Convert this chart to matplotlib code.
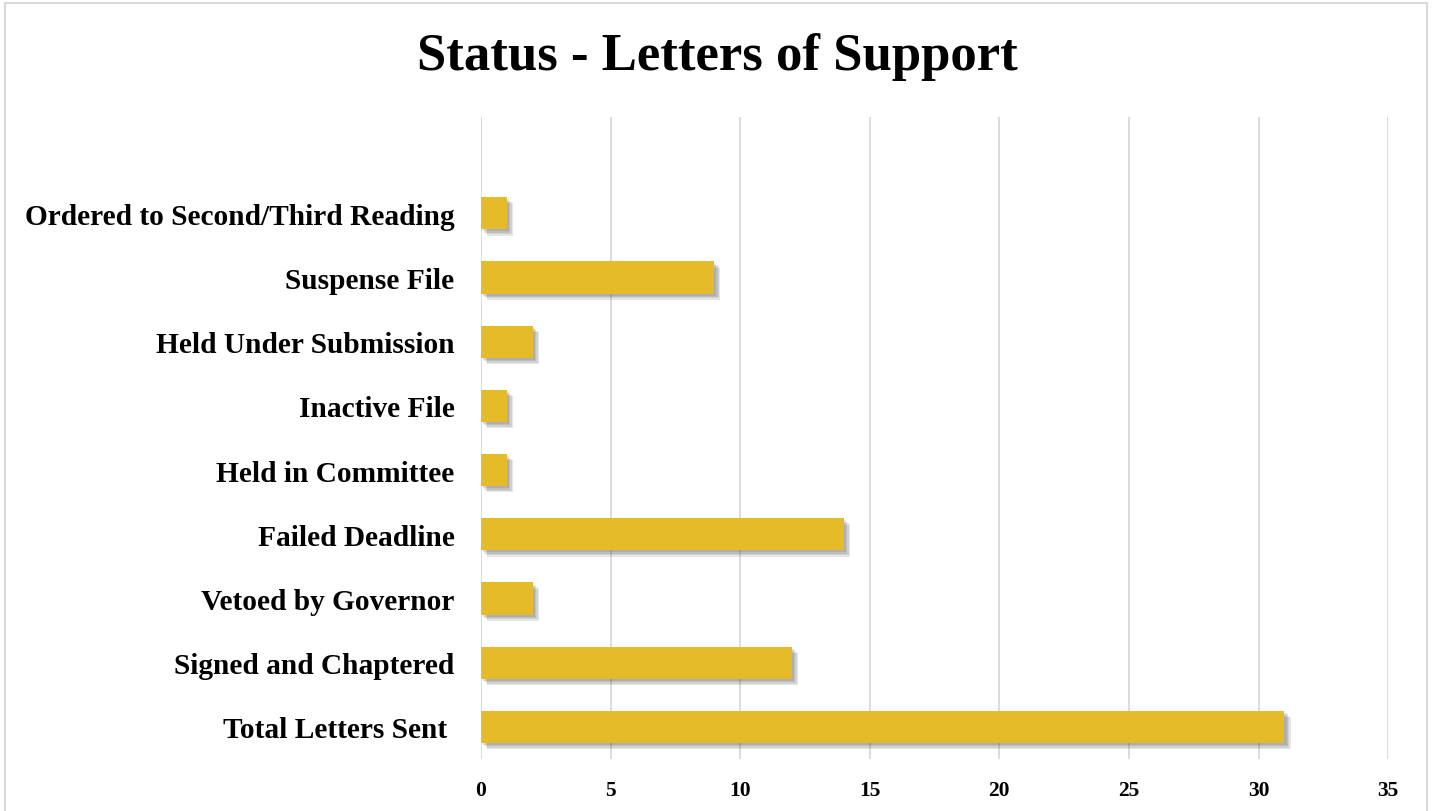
import matplotlib.pyplot as plt
import matplotlib.patheffects as pe
from matplotlib.patches import Rectangle

# Data (bottom to top)
categories = ['Total Letters Sent ', 'Signed and Chaptered', 'Vetoed by Governor',
              'Failed Deadline', 'Held in Committee', 'Inactive File',
              'Held Under Submission', 'Suspense File',
              'Ordered to Second/Third Reading']
counts = [31, 12, 2, 14, 1, 1, 2, 9, 1]
x_ticks = [0, 5, 10, 15, 20, 25, 30, 35]

bar_colour = '#E5BB2A'
serif = ['Liberation Serif', 'DejaVu Serif']

fig = plt.figure(figsize=(14.34, 8.12), dpi=100)
fig.patches.append(Rectangle((0.0035, -0.01), 0.9916, 1.005, transform=fig.transFigure,
                             fill=False, edgecolor='#d9d9d9', linewidth=1.5))

ax = fig.add_axes([0.3354, 0.064, 0.6326, 0.7907])

# soft drop shadow: a few stacked faint offsets
shadow = [pe.SimplePatchShadow(offset=(k, -k), shadow_rgbFace='#444444', alpha=0.13)
          for k in (1.5, 2.5, 3.5, 4.5)]
shadow.append(pe.Normal())
bars = ax.barh(range(len(categories)), counts, height=0.5, color=bar_colour,
               zorder=3)
for b in bars:
    b.set_path_effects(shadow)

ax.set_xlim(0, 35)
ax.set_ylim(-0.5, 9.5)
ax.set_xticks(x_ticks)
ax.set_yticks(range(len(categories)))
ax.set_yticklabels(categories, family=serif, fontsize=21.2, fontweight='bold')
ax.set_xticklabels([str(t) for t in x_ticks], family=serif, fontsize=15.5,
                   fontweight='bold')
ax.tick_params(axis='both', length=0)
ax.tick_params(axis='y', pad=19)
ax.tick_params(axis='x', pad=15)
ax.grid(axis='x', color='#d9d9d9', linewidth=1.3, zorder=0)
for s in ax.spines.values():
    s.set_visible(False)

fig.text(0.5, 0.93, 'Status - Letters of Support', ha='center', va='center',
         family=serif, fontsize=38, fontweight='bold')

fig.savefig('out.png', dpi=100, facecolor='white')
